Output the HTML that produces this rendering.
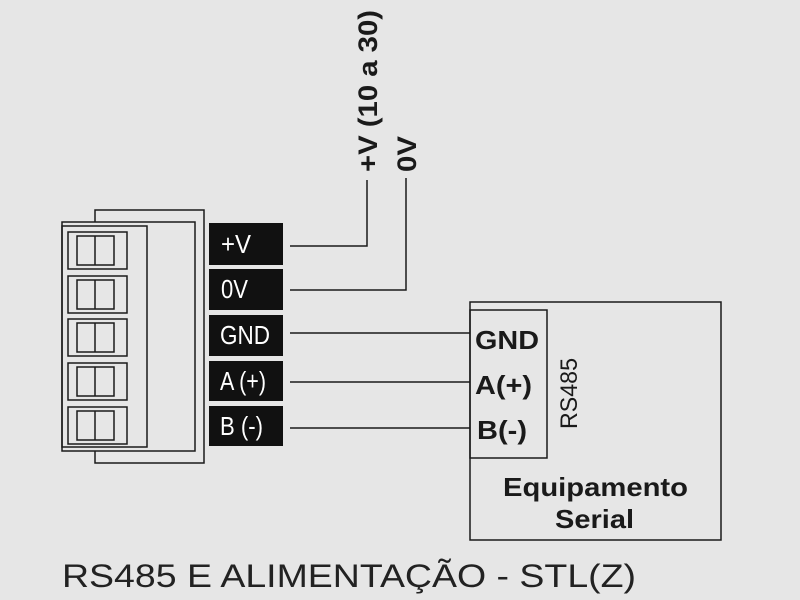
<!DOCTYPE html>
<html><head><meta charset="utf-8"><style>
body{margin:0;background:#e6e6e6;}
svg{display:block}
</style></head><body>
<svg width="800" height="600" xmlns="http://www.w3.org/2000/svg" font-family="'Liberation Sans', Arial, sans-serif">
<rect width="800" height="600" fill="#e6e6e6"/>
<g fill="none" stroke="#1a1a1a" stroke-width="1.5">
<rect x="95" y="210" width="109" height="253"/>
<rect x="62" y="222" width="133" height="229" fill="#e6e6e6"/>
<rect x="62" y="226" width="85" height="221"/>
<g>
<rect x="68" y="232" width="59" height="37"/><rect x="77" y="236" width="37" height="29"/><line x1="95" y1="236" x2="95" y2="265"/>
<rect x="68" y="276" width="59" height="37"/><rect x="77" y="280" width="37" height="29"/><line x1="95" y1="280" x2="95" y2="309"/>
<rect x="68" y="319" width="59" height="37"/><rect x="77" y="323" width="37" height="29"/><line x1="95" y1="323" x2="95" y2="352"/>
<rect x="68" y="363" width="59" height="37"/><rect x="77" y="367" width="37" height="29"/><line x1="95" y1="367" x2="95" y2="396"/>
<rect x="68" y="407" width="59" height="37"/><rect x="77" y="411" width="37" height="29"/><line x1="95" y1="411" x2="95" y2="440"/>
</g>
<polyline points="290,246 367,246 367,180"/>
<polyline points="290,290 406,290 406,178"/>
<line x1="290" y1="333" x2="470" y2="333"/>
<line x1="290" y1="382" x2="470" y2="382"/>
<line x1="290" y1="428" x2="470" y2="428"/>
<rect x="470" y="302" width="251" height="238"/>
<rect x="470" y="310" width="77" height="148"/>
</g>
<g fill="#111">
<rect x="209" y="223" width="74" height="42"/>
<rect x="209" y="269" width="74" height="41"/>
<rect x="209" y="315" width="74" height="41"/>
<rect x="209" y="361" width="74" height="40"/>
<rect x="209" y="406" width="74" height="40"/>
</g>
<g fill="#fff" font-size="26">
<text x="221" y="253" textLength="30" lengthAdjust="spacingAndGlyphs">+V</text>
<text x="221" y="298" textLength="27" lengthAdjust="spacingAndGlyphs">0V</text>
<text x="220" y="344" textLength="50" lengthAdjust="spacingAndGlyphs">GND</text>
<text x="220" y="390" textLength="46" lengthAdjust="spacingAndGlyphs">A (+)</text>
<text x="220" y="435" textLength="43" lengthAdjust="spacingAndGlyphs">B (-)</text>
</g>
<g fill="#1a1a1a" font-weight="bold" font-size="26">
<text x="377" y="172" transform="rotate(-90 377 172)" textLength="162" lengthAdjust="spacingAndGlyphs" font-size="27">+V (10 a 30)</text>
<text x="416" y="172" transform="rotate(-90 416 172)" textLength="36" lengthAdjust="spacingAndGlyphs" font-size="27">0V</text>
<text x="475" y="349" textLength="64" lengthAdjust="spacingAndGlyphs">GND</text>
<text x="475" y="394" textLength="57" lengthAdjust="spacingAndGlyphs">A(+)</text>
<text x="477" y="439" textLength="50" lengthAdjust="spacingAndGlyphs">B(-)</text>
<text x="503" y="496" textLength="185" lengthAdjust="spacingAndGlyphs">Equipamento</text>
<text x="555" y="528" textLength="79" lengthAdjust="spacingAndGlyphs">Serial</text>
</g>
<text x="577" y="429" transform="rotate(-90 577 429)" font-size="24" fill="#1a1a1a" textLength="71" lengthAdjust="spacingAndGlyphs">RS485</text>
<text x="62" y="587" font-size="32" fill="#222" textLength="574" lengthAdjust="spacingAndGlyphs">RS485 E ALIMENTAÇÃO - STL(Z)</text>
</svg>
</body></html>
